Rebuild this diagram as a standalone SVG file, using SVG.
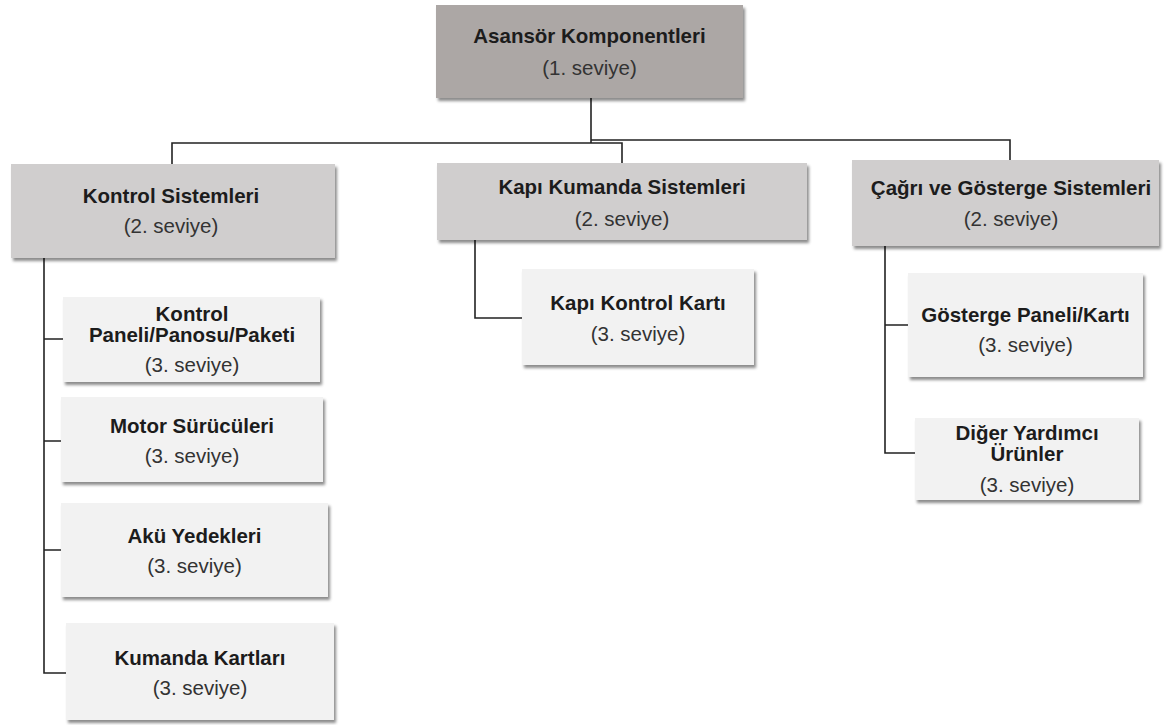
<svg xmlns="http://www.w3.org/2000/svg" width="1164" height="725" viewBox="0 0 1164 725">
<defs>
<filter id="sh" x="-10%" y="-10%" width="125%" height="130%">
<feDropShadow dx="2" dy="3" stdDeviation="1.6" flood-color="#000" flood-opacity="0.45"/>
</filter>
<style>
.b{stroke:none;filter:url(#sh)}
.l1{fill:#aca7a5}
.l2{fill:#d0cece}
.l3{fill:#f2f2f2}
text{font-family:"Liberation Sans",Arial,sans-serif;font-size:20.5px;text-anchor:middle}
.t{font-weight:bold;fill:#1c1c1c}
.s{fill:#333}
.c{fill:none;stroke:#222;stroke-width:1.6}
</style>
</defs>
<rect width="1164" height="725" fill="#fff"/>
<g id="connectors">
<path class="c" d="M591,98 V143"/>
<path class="c" d="M172,164 V143 H622 V163"/>
<path class="c" d="M591,140 H1010 V160"/>
<path class="c" d="M44,258 V673 H66 M44,339 H63 M44,441 H61 M44,550 H61"/>
<path class="c" d="M475,240 V318 H522"/>
<path class="c" d="M885,246 V453 H915 M885,325 H908"/>
</g>
<g id="n-root">
<rect class="b l1" x="436" y="5" width="307" height="93"/>
<text class="t" x="589.5" y="43">Asansör Komponentleri</text>
<text class="s" x="589.5" y="75">(1. seviye)</text>
</g>
<g id="n-kontrol-sistemleri">
<rect class="b l2" x="11" y="164" width="324" height="94"/>
<text class="t" x="171" y="203">Kontrol Sistemleri</text>
<text class="s" x="171" y="233">(2. seviye)</text>
</g>
<g id="n-kapi-kumanda">
<rect class="b l2" x="437" y="163" width="370" height="77"/>
<text class="t" x="622" y="194">Kapı Kumanda Sistemleri</text>
<text class="s" x="622" y="226">(2. seviye)</text>
</g>
<g id="n-cagri">
<rect class="b l2" x="852" y="160" width="307" height="86"/>
<text class="t" x="1011" y="195">Çağrı ve Gösterge Sistemleri</text>
<text class="s" x="1011" y="226">(2. seviye)</text>
</g>
<g id="n-kontrol-paneli">
<rect class="b l3" x="63" y="297" width="257" height="85"/>
<text class="t" x="192" y="321">Kontrol</text>
<text class="t" x="192" y="342">Paneli/Panosu/Paketi</text>
<text class="s" x="192" y="372">(3. seviye)</text>
</g>
<g id="n-motor">
<rect class="b l3" x="61" y="397" width="262" height="85"/>
<text class="t" x="192" y="433">Motor Sürücüleri</text>
<text class="s" x="192" y="463">(3. seviye)</text>
</g>
<g id="n-aku">
<rect class="b l3" x="61" y="503" width="267" height="94"/>
<text class="t" x="194.5" y="543">Akü Yedekleri</text>
<text class="s" x="194.5" y="573">(3. seviye)</text>
</g>
<g id="n-kumanda-kartlari">
<rect class="b l3" x="66" y="623" width="268" height="97"/>
<text class="t" x="200" y="665">Kumanda Kartları</text>
<text class="s" x="200" y="695">(3. seviye)</text>
</g>
<g id="n-kapi-kontrol">
<rect class="b l3" x="522" y="269" width="232" height="96"/>
<text class="t" x="638" y="310">Kapı Kontrol Kartı</text>
<text class="s" x="638" y="341">(3. seviye)</text>
</g>
<g id="n-gosterge">
<rect class="b l3" x="908" y="273" width="235" height="104"/>
<text class="t" x="1025.5" y="322">Gösterge Paneli/Kartı</text>
<text class="s" x="1025.5" y="352">(3. seviye)</text>
</g>
<g id="n-diger">
<rect class="b l3" x="915" y="418" width="224" height="82"/>
<text class="t" x="1027" y="440">Diğer Yardımcı</text>
<text class="t" x="1027" y="461">Ürünler</text>
<text class="s" x="1027" y="492">(3. seviye)</text>
</g>
</svg>
